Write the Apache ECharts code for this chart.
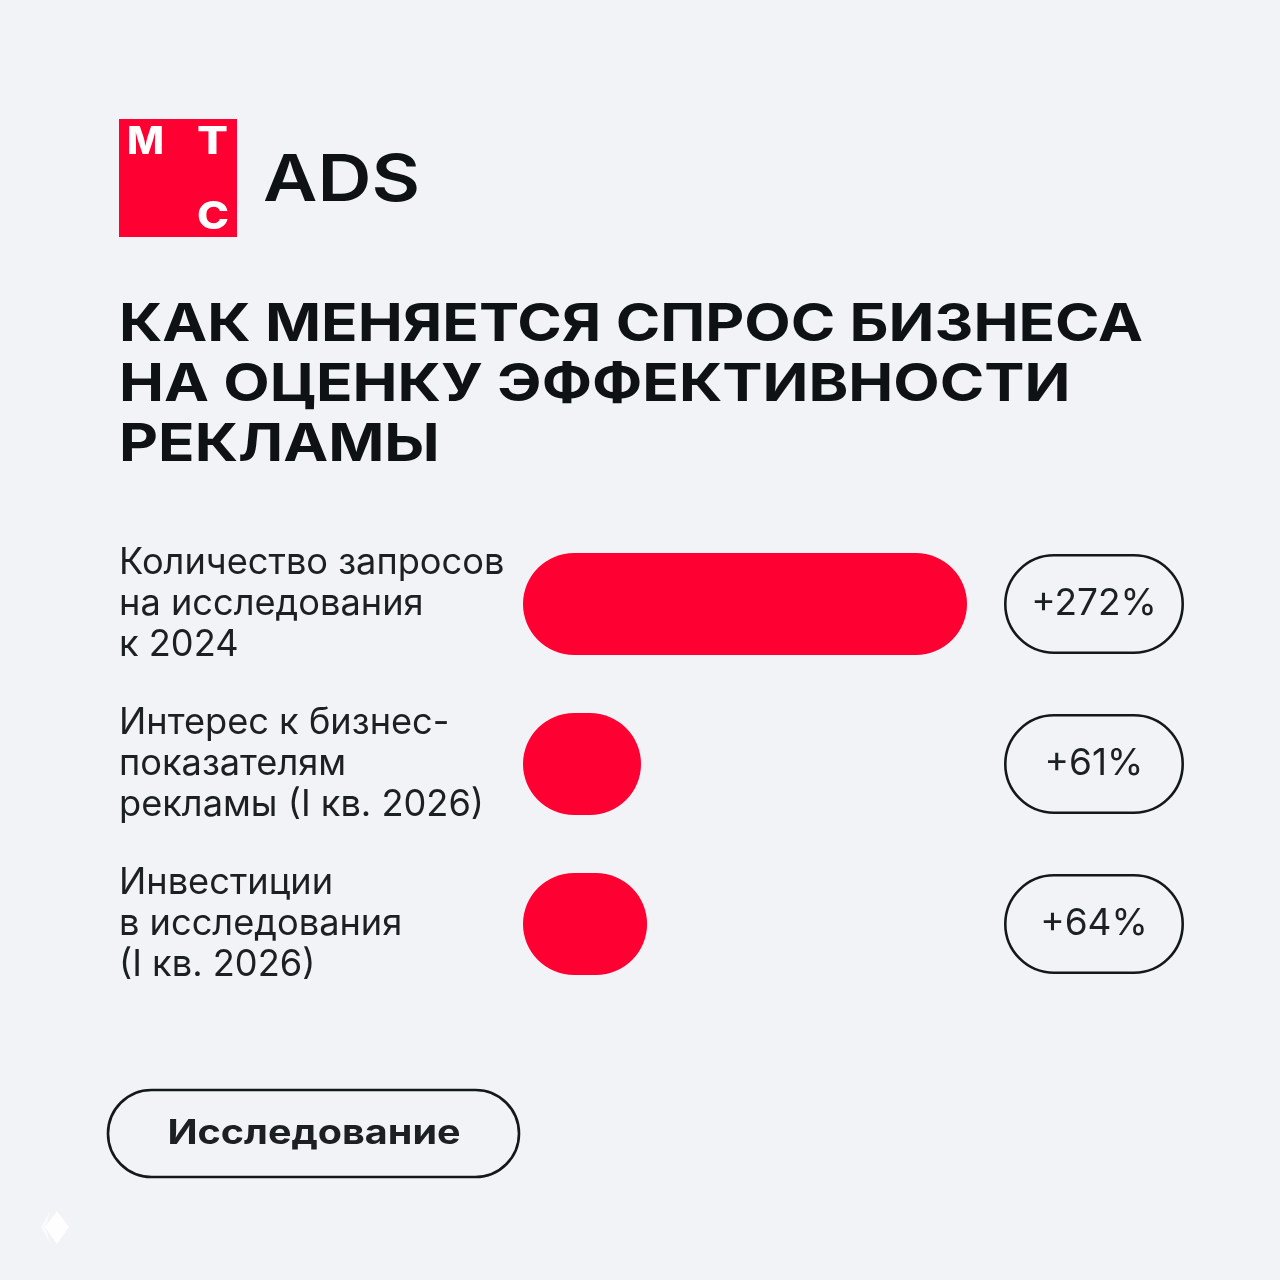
<!DOCTYPE html>
<html><head><meta charset="utf-8">
<style>html,body{margin:0;padding:0;background:#f1f3f7}#c{width:1280px;height:1280px}</style>
<script src="https://cdn.jsdelivr.net/npm/echarts@6/dist/echarts.min.js"></script></head>
<body><div id="c"></div>
<script>
const titleLines = ['КАК МЕНЯЕТСЯ СПРОС БИЗНЕСА','НА ОЦЕНКУ ЭФФЕКТИВНОСТИ','РЕКЛАМЫ'];
const categories = ['Количество запросов\nна исследования\nк 2024','Интерес к бизнес-\nпоказателям\nрекламы (I кв. 2026)','Инвестиции\nв исследования\n(I кв. 2026)'];
const barLengths = [272, 72.3, 76];
const changeLabels = ['+272%','+61%','+64%'];
const buttonText = 'Исследование';
const RED = '#ff0032', INK = '#1d2023', DARK = '#0f1215', FONT = 'Inter';

const ctx = document.createElement('canvas').getContext('2d');
function fit(text, weight, size, target){
  ctx.font = weight + ' ' + size + 'px Inter';
  return target / ctx.measureText(text).width;
}
const titleScale = fit(titleLines[0], 700, 52, 1024);
function titleEl(i, y){
  return {type:'text',x:119,y:y,scaleX:titleScale,
    style:{text:titleLines[i],fontFamily:FONT,fontWeight:700,fontSize:52,fill:DARK,verticalAlign:'middle'}};
}
function logoEl(t,x,y,w){
  return {type:'text',x:x,y:y,scaleX:fit(t,800,38,w),
    style:{text:t,fontFamily:FONT,fontWeight:800,fontSize:38,fill:'#fff',align:'center',verticalAlign:'middle'}};
}

const chart = echarts.init(document.getElementById('c'), null, {renderer:'canvas'});
chart.setOption({
  backgroundColor:'#f1f3f7',
  animation:false,
  grid:[
    {left:523,top:524,width:444,height:480},
    {left:1004,top:524,width:180,height:480}
  ],
  xAxis:[
    {gridIndex:0,type:'value',min:0,max:272,show:false},
    {gridIndex:1,type:'value',min:0,max:1,show:false}
  ],
  yAxis:[
    {gridIndex:0,type:'category',inverse:true,data:categories,
     axisLine:{show:false},axisTick:{show:false},
     axisLabel:{align:'left',margin:404,fontFamily:FONT,fontSize:36.2,lineHeight:41,color:INK}},
    {gridIndex:1,type:'category',inverse:true,data:changeLabels,show:false}
  ],
  series:[
    {type:'bar',xAxisIndex:0,yAxisIndex:0,data:barLengths,barWidth:102,
     itemStyle:{color:RED,borderRadius:51}},
    {type:'bar',xAxisIndex:1,yAxisIndex:1,data:changeLabels.map(()=>1),barWidth:100,
     itemStyle:{color:'transparent',borderColor:'#15181b',borderWidth:2.6,borderRadius:50},
     label:{show:true,position:'inside',formatter:p=>changeLabels[p.dataIndex],
       fontFamily:FONT,fontSize:37,color:INK}}
  ],
  graphic:[
    {type:'rect',shape:{x:119,y:119,width:118,height:118},style:{fill:RED}},
    logoEl('М',145.5,143,37),
    logoEl('Т',212.5,143,31),
    logoEl('С',213,218,32),
    {type:'text',x:263,y:182,scaleX:fit('ADS',600,64,157),
      style:{text:'ADS',fontFamily:FONT,fontWeight:600,fontSize:64,fill:DARK,verticalAlign:'middle'}},
    titleEl(0,325),titleEl(1,385),titleEl(2,445),
    {type:'rect',shape:{x:108,y:1090,width:411,height:87,r:43.5},style:{fill:'none',stroke:'#15181b',lineWidth:2.6}},
    {type:'text',x:314,y:1134,scaleX:fit(buttonText,700,34,293),
      style:{text:buttonText,fontFamily:FONT,fontWeight:700,fontSize:34,fill:INK,align:'center',verticalAlign:'middle'}},
    {type:'polygon',shape:{points:[[57,1211],[69,1227],[57,1244],[45,1227]]},style:{fill:'#ffffff',opacity:.9}},
    {type:'polygon',shape:{points:[[50,1211],[41,1227],[50,1244],[46,1227]]},style:{fill:'#ffffff',opacity:.6}}
  ]
});
</script></body></html>
